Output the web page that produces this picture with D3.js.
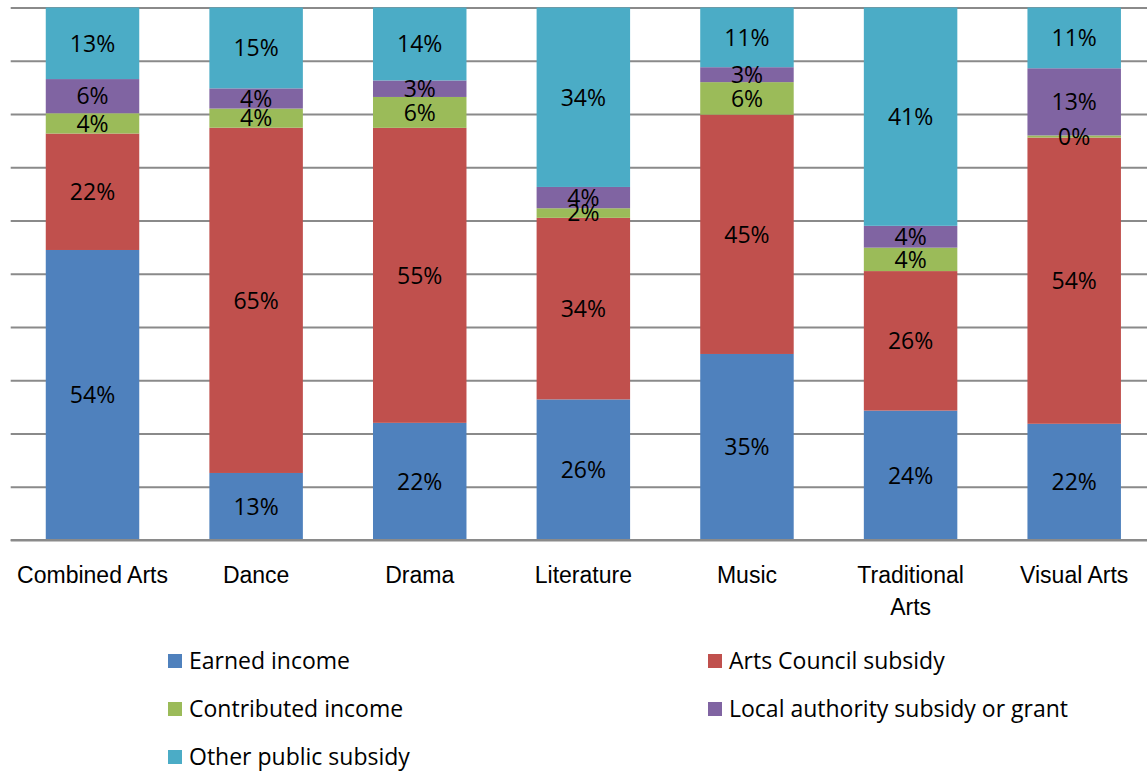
<!DOCTYPE html>
<html>
<head>
<meta charset="utf-8">
<script src="https://cdn.jsdelivr.net/npm/d3@7"></script>
<style>
  html, body { margin: 0; padding: 0; background: #fff; }
  svg { display: block; font-family: "Open Sans", Lato, sans-serif; }
</style>
</head>
<body>
<svg id="chart" width="1147" height="771"></svg>
<script>
// Income mix by artform (share of total income, %)
const categories = ["Combined Arts", "Dance", "Drama", "Literature", "Music", "Traditional Arts", "Visual Arts"];
const seriesNames = ["Earned income", "Arts Council subsidy", "Contributed income", "Local authority subsidy or grant", "Other public subsidy"];
const seriesColors = ["#4F81BD", "#C0504D", "#9BBB59", "#8064A2", "#4BACC6"];

const earnedIncome      = [54.3, 12.6, 22.0, 26.4, 34.9, 24.3, 21.8];
const artsCouncil       = [21.8, 64.9, 55.4, 34.1, 44.9, 26.2, 53.7];
const contributedIncome = [3.8, 3.6, 5.8, 1.8, 6.1, 4.4, 0.4];
const localAuthority    = [6.4, 3.8, 3.1, 4.0, 2.8, 4.1, 12.6];
const otherPublic       = [13.4, 15.2, 13.7, 33.7, 11.2, 41.0, 11.4];

const gridTicks = [0, 0.1, 0.2, 0.3, 0.4, 0.5, 0.6, 0.7, 0.8, 0.9, 1];

const seriesValues = [earnedIncome, artsCouncil, contributedIncome, localAuthority, otherPublic];
const rows = categories.map((c, i) => {
  const r = { category: c };
  seriesNames.forEach((s, j) => { r[s] = seriesValues[j][i]; });
  return r;
});

const FONT_SIZE = 23;
const svg = d3.select("#chart");
const plot = { left: 10.7, right: 1156, top: 7.5, bottom: 540 };

const x = d3.scaleBand()
  .domain(categories)
  .range([plot.left, plot.right])
  .paddingInner(0.4286)
  .paddingOuter(0.2143);

const y = d3.scaleLinear().domain([0, 1]).range([plot.bottom, plot.top]);
const color = d3.scaleOrdinal().domain(seriesNames).range(seriesColors);

// horizontal gridlines
svg.append("g")
  .attr("transform", `translate(${plot.left},0)`)
  .call(d3.axisLeft(y).tickValues(gridTicks).tickSize(-(plot.right - plot.left)).tickFormat(""))
  .call(g => g.select(".domain").remove())
  .call(g => g.selectAll(".tick line").attr("stroke", "#8a8a8a").attr("stroke-width", 2));

// 100% stacked bars
const stacked = d3.stack().keys(seriesNames).offset(d3.stackOffsetExpand)(rows);

const layers = svg.append("g").selectAll("g")
  .data(stacked)
  .join("g")
  .attr("fill", d => color(d.key));

layers.selectAll("rect")
  .data(d => d.map(p => ({ key: d.key, p })))
  .join("rect")
  .attr("x", d => x(d.p.data.category))
  .attr("width", x.bandwidth())
  .attr("y", d => y(d.p[1]))
  .attr("height", d => y(d.p[0]) - y(d.p[1]));

// value labels centred in each segment
const labels = svg.append("g")
  .attr("font-size", FONT_SIZE)
  .attr("fill", "#000")
  .attr("text-anchor", "middle");

stacked.forEach(layer => {
  layer.forEach(p => {
    labels.append("text")
      .attr("x", x(p.data.category) + x.bandwidth() / 2)
      .attr("y", (y(p[0]) + y(p[1])) / 2)
      .attr("dy", "0.36em")
      .text(Math.round(p.data[layer.key]) + "%");
  });
});

// category axis
const xAxis = svg.append("g")
  .attr("transform", `translate(0,${plot.bottom})`)
  .call(d3.axisBottom(x).tickSize(0).tickPadding(0));
xAxis.select(".domain").remove();
xAxis.append("line")
  .attr("x1", plot.left).attr("x2", plot.right)
  .attr("stroke", "#8a8a8a").attr("stroke-width", 2);

xAxis.selectAll(".tick text").remove();
xAxis.selectAll(".tick").each(function (d) {
  const words = d === "Traditional Arts" ? ["Traditional", "Arts"] : [d];
  const t = d3.select(this).append("text")
    .attr("fill", "#000")
    .attr("font-size", FONT_SIZE)
    .attr("text-anchor", "middle");
  words.forEach((w, i) => {
    t.append("tspan").attr("x", 0).attr("y", 43 + i * 32).text(w);
  });
});

// legend
const legendItems = [
  { name: seriesNames[0], x: 168, y: 661 },
  { name: seriesNames[1], x: 708, y: 661 },
  { name: seriesNames[2], x: 168, y: 709 },
  { name: seriesNames[3], x: 708, y: 709 },
  { name: seriesNames[4], x: 168, y: 757 }
];
const legend = svg.append("g").selectAll("g")
  .data(legendItems)
  .join("g")
  .attr("transform", d => `translate(${d.x},${d.y})`);
legend.append("rect")
  .attr("x", 0).attr("y", -7).attr("width", 14).attr("height", 14)
  .attr("fill", d => color(d.name));
legend.append("text")
  .attr("x", 21).attr("dy", "0.36em")
  .attr("font-size", FONT_SIZE)
  .attr("fill", "#000")
  .text(d => d.name);
</script>
</body>
</html>
